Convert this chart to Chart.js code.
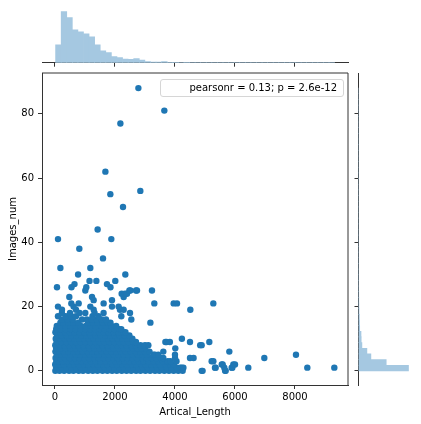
<!DOCTYPE html>
<html>
<head>
<meta charset="utf-8">
<script src="https://cdn.jsdelivr.net/npm/chart.js@4.4.0/dist/chart.umd.min.js"></script>
<style>
  html, body { margin: 0; padding: 0; background: #fff; }
  #wrap { position: relative; width: 421px; height: 424px; }
  #wrap canvas { position: absolute; left: 0; top: 0; }
  #legend {
    position: absolute; left: 160px; top: 79px; width: 184px; height: 18px;
    box-sizing: border-box; border: 1px solid #d6d6d6; border-radius: 3px;
    background: rgba(255, 255, 255, 0.8); color: #000;
    font: 10px "DejaVu Sans", sans-serif; line-height: 16px;
    text-align: right; padding-right: 6px; white-space: nowrap;
  }
</style>
</head>
<body>
<div id="wrap">
  <canvas id="joint" width="421" height="424"></canvas>
  <canvas id="topHist" width="421" height="424"></canvas>
  <canvas id="sideHist" width="421" height="424"></canvas>
  <div id="legend">pearsonr = 0.13; p = 2.6e-12</div>
</div>
<script>
'use strict';

const xTickLabels = [0, 2000, 4000, 6000, 8000];
const yTickLabels = [0, 20, 40, 60, 80];

// Images_num value of each row, and the Artical_Length values seen on that row
const rowImages = [0, 1, 2, 3, 4, 5, 6, 7, 8, 9, 10, 11, 12, 13, 14, 15, 16, 17, 18, 19, 20, 21, 22, 23, 24, 25, 26, 27, 28];
const lengthsByRow = [
  [12, 150, 305, 470, 615, 790, 935, 1105, 1260, 1415, 1585, 1745, 1905, 2060, 2225, 2385, 2540, 2705, 2850, 3015, 3170, 3335, 3480, 3645, 3800, 3955, 4110, 4256, 4889, 4920, 5670, 5690],
  [35, 95, 235, 385, 550, 705, 860, 1015, 1185, 1340, 1495, 1665, 1820, 1975, 2145, 2300, 2455, 2620, 2780, 2935, 3090, 3255, 3405, 3560, 3725, 3880, 4060, 4170, 4222, 4280, 5333, 5356, 5644, 5890, 5911, 6444, 8411, 9311],
  [8, 170, 300, 490, 650, 790, 970, 1110, 1290, 1430, 1610, 1750, 1930, 2070, 2250, 2390, 2570, 2710, 2890, 3030, 3210, 3370, 3500, 3700, 3840, 3960, 5560, 5589, 5944, 6000],
  [45, 120, 260, 410, 575, 730, 880, 1040, 1200, 1365, 1520, 1680, 1840, 2005, 2160, 2320, 2480, 2645, 2800, 2960, 3120, 3280, 3440, 3600, 3760, 3850, 4050, 5222, 5278],
  [20, 185, 330, 495, 665, 815, 985, 1135, 1305, 1455, 1625, 1775, 1945, 2095, 2265, 2415, 2585, 2735, 2905, 3055, 3225, 3375, 3530, 3610, 4000, 4500, 4620, 6978],
  [60, 210, 350, 520, 690, 840, 1010, 1160, 1330, 1470, 1650, 1800, 1960, 2120, 2290, 2440, 2600, 2760, 2920, 3070, 3278, 3333, 3444, 4000, 8033],
  [15, 140, 290, 450, 610, 770, 930, 1090, 1240, 1410, 1560, 1730, 1880, 2040, 2200, 2360, 2520, 2690, 2840, 3000, 3150, 3611, 5811],
  [40, 200, 365, 520, 680, 840, 1000, 1150, 1320, 1480, 1640, 1790, 1960, 2110, 2280, 2430, 2600, 2760, 2900, 3010, 4010],
  [10, 170, 320, 470, 640, 790, 950, 1120, 1270, 1430, 1590, 1750, 1910, 2070, 2230, 2390, 2550, 2700, 2850, 3000, 3111, 4840, 4889],
  [55, 215, 380, 540, 700, 860, 1010, 1180, 1340, 1500, 1660, 1820, 1980, 2140, 2300, 2460, 2620, 2700, 3680, 3720, 3830, 4500, 5144],
  [25, 160, 330, 490, 650, 810, 970, 1130, 1290, 1450, 1610, 1770, 1930, 2090, 2250, 2410, 2580, 4230],
  [70, 230, 390, 550, 710, 880, 1040, 1200, 1360, 1520, 1680, 1840, 2000, 2160, 2330, 2480],
  [15, 175, 340, 500, 660, 820, 990, 1150, 1310, 1470, 1630, 1790, 1960, 2120, 2280, 2350],
  [40, 200, 360, 520, 680, 850, 1010, 1170, 1330, 1490, 1650, 1820, 1980, 2140, 2210],
  [60, 190, 350, 520, 700, 860, 1030, 1190, 1350, 1540, 1700, 1880, 2040],
  [180, 280, 450, 610, 780, 1100, 1270, 1420, 1590, 1760, 1850, 3180],
  [230, 420, 590, 900, 1060, 1230, 1400, 1560, 1700, 2544],
  [100, 360, 540, 700, 1250, 1450, 2211],
  [230, 500, 820, 1011, 1320, 1620, 2500],
  [233, 700, 1289, 2167, 2289, 4511],
  [100, 620, 1178, 1900, 2122],
  [545, 789, 1622, 3311, 3956, 4067, 5278],
  [1289, 1900],
  [478, 1234, 2289],
  [2222, 2333, 2400],
  [1011, 2480, 2511, 2700, 2733, 3233],
  [67, 550, 1044, 1850],
  [650, 1733],
  [1150, 1380, 2010]
];
const outlierLength = [770, 2345, 180, 1178, 1600, 811, 100, 1878, 1422, 2267, 1845, 2845, 1680, 2180, 3645, 2780];
const outlierImages = [30, 30, 32, 32, 35, 38, 41, 41, 44, 51, 55, 56, 62, 77, 81, 88];

// marginal histograms (50 bins each)
const lengthBinStart = 20;
const lengthBinWidth = 186;
const lengthCounts = [177, 507, 447, 327, 307, 287, 257, 177, 117, 100, 60, 50, 37, 34, 40, 27, 10, 7, 7, 10,
  4, 3, 2, 3, 1, 2, 1, 2, 1, 1, 2, 1, 0, 1, 1, 0, 0, 1, 0, 0, 0, 0, 0, 1, 0, 1, 0, 0, 0, 1];
const imagesBinStart = 0;
const imagesBinWidth = 1.76;
const imagesCounts = [1375, 762, 341, 231, 94, 74, 69, 33, 27, 22, 14, 11, 8, 7, 5, 4, 3, 2, 2, 2,
  1, 1, 1, 0, 1, 0, 0, 0, 1, 0, 0, 1, 1, 0, 0, 0, 0, 0, 0, 0, 0, 0, 0, 1, 0, 0, 1, 0, 0, 1];

const xMin = -433, xMax = 9767;
const yMin = -4.4, yMax = 92.7;

const blue = '#1f77b4';
const histBlue = '#a5c8e1'; // #1f77b4 at alpha 0.4 over white
const spine = '#333';
const font = { family: 'DejaVu Sans', size: 10 };

const points = [];
rowImages.forEach((img, i) => {
  lengthsByRow[i].forEach(len => points.push({ x: len, y: img }));
});
outlierLength.forEach((len, i) => points.push({ x: len, y: outlierImages[i] }));

const frame = {
  id: 'frame',
  afterDraw(chart) {
    const { ctx, chartArea: a } = chart;
    ctx.save();
    ctx.strokeStyle = spine;
    ctx.lineWidth = 1;
    ctx.beginPath();
    ctx.moveTo(a.left, a.top);
    ctx.lineTo(a.right, a.top);
    ctx.lineTo(a.right, a.bottom);
    ctx.stroke();
    ctx.restore();
  }
};

const setTicks = list => scale => { scale.ticks = list.map(v => ({ value: v })); };

new Chart(document.getElementById('joint'), {
  type: 'scatter',
  data: {
    datasets: [{
      data: points,
      pointRadius: 3.2,
      pointHoverRadius: 3.2,
      pointBackgroundColor: blue,
      pointBorderWidth: 0
    }]
  },
  options: {
    responsive: false,
    animation: false,
    layout: { padding: { top: 73, right: 73, left: 0, bottom: 0 } },
    plugins: { legend: { display: false }, tooltip: { enabled: false } },
    scales: {
      x: {
        type: 'linear', min: xMin, max: xMax,
        afterBuildTicks: setTicks(xTickLabels),
        afterFit: s => { s.height = 39; },
        grid: { drawOnChartArea: false, tickLength: 4, color: spine },
        border: { color: spine, width: 1 },
        ticks: { font, color: '#000', padding: 2, maxRotation: 0, callback: v => String(v) },
        title: { display: true, text: 'Artical_Length', font, color: '#000', padding: { top: 0, bottom: 6 } }
      },
      y: {
        type: 'linear', min: yMin, max: yMax,
        afterBuildTicks: setTicks(yTickLabels),
        afterFit: s => { s.width = 42; },
        grid: { drawOnChartArea: false, tickLength: 4, color: spine },
        border: { color: spine, width: 1 },
        ticks: { font, color: '#000', padding: 4, callback: v => String(v) },
        title: { display: true, text: 'Images_num', font, color: '#000', padding: { top: 7, bottom: 0 } }
      }
    }
  },
  plugins: [frame]
});

new Chart(document.getElementById('topHist'), {
  type: 'bar',
  data: {
    datasets: [{
      data: lengthCounts.map((c, i) => ({ x: lengthBinStart + (i + 0.5) * lengthBinWidth, y: c })),
      backgroundColor: histBlue,
      borderWidth: 0,
      barPercentage: 1,
      categoryPercentage: 1
    }]
  },
  options: {
    responsive: false,
    animation: false,
    layout: { padding: { top: 9, right: 73, left: 42, bottom: 0 } },
    plugins: { legend: { display: false }, tooltip: { enabled: false } },
    scales: {
      x: {
        type: 'linear', min: xMin, max: xMax, offset: false,
        afterBuildTicks: setTicks(xTickLabels),
        afterFit: s => { s.height = 361.3; },
        grid: { drawOnChartArea: false, tickLength: 4, color: spine, offset: false },
        border: { color: spine, width: 1 },
        ticks: { display: false }
      },
      y: { display: false, min: 0, max: Math.max(...lengthCounts) * 1.05 }
    }
  }
});

new Chart(document.getElementById('sideHist'), {
  type: 'bar',
  data: {
    datasets: [{
      data: imagesCounts.map((c, i) => ({ y: imagesBinStart + (i + 0.5) * imagesBinWidth, x: c })),
      backgroundColor: histBlue,
      borderWidth: 0,
      barPercentage: 1,
      categoryPercentage: 1
    }]
  },
  options: {
    indexAxis: 'y',
    responsive: false,
    animation: false,
    layout: { padding: { top: 73, right: 10, left: 0, bottom: 39 } },
    plugins: { legend: { display: false }, tooltip: { enabled: false } },
    scales: {
      y: {
        type: 'linear', min: yMin, max: yMax, offset: false,
        afterBuildTicks: setTicks(yTickLabels),
        afterFit: s => { s.width = 358.5; },
        grid: { drawOnChartArea: false, tickLength: 4, color: spine, offset: false },
        border: { color: spine, width: 1 },
        ticks: { display: false }
      },
      x: { display: false, min: 0, max: Math.max(...imagesCounts) * 1.05 }
    }
  }
});
</script>
</body>
</html>
